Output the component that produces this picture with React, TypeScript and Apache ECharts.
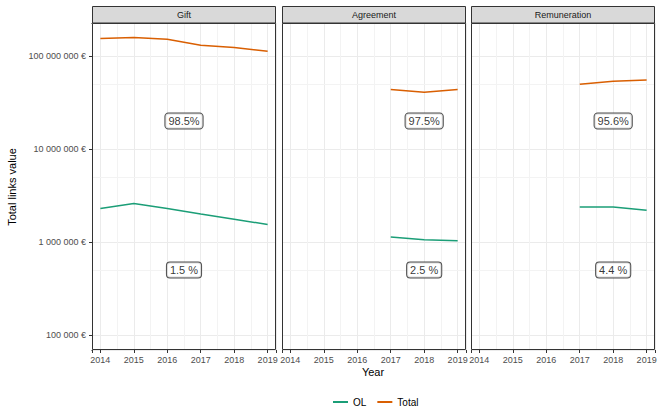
import React, { useEffect, useRef } from "react";
import * as echarts from "echarts";

const years = [2014, 2015, 2016, 2017, 2018, 2019];
const lateYears = [2017, 2018, 2019];
const panels = ["Gift", "Agreement", "Remuneration"];

const giftTotal = [154e6, 158e6, 151e6, 130e6, 123e6, 112e6];
const giftOL = [2.29e6, 2.6e6, 2.29e6, 2.0e6, 1.76e6, 1.54e6];
const agreementTotal = [43.5e6, 40.6e6, 43.5e6];
const agreementOL = [1.13e6, 1.06e6, 1.03e6];
const remunerationTotal = [49.5e6, 53.3e6, 55e6];
const remunerationOL = [2.38e6, 2.38e6, 2.2e6];

const shareTotal = ["98.5%", "97.5%", "95.6%"];
const shareOL = ["1.5 %", "2.5 %", "4.4 %"];
const labelX = [2016.5, 2018, 2018];
const labelYTotal = 2e7;
const labelYOL = 5e5;

const minorX = [2014.5, 2015.5, 2016.5, 2017.5, 2018.5];
const minorY = [5e5, 5e6, 5e7];

const GREEN = "#1B9E77";
const ORANGE = "#D95F02";
const FONT = "'Liberation Sans', Arial, sans-serif";

const panelLeft = [92, 282, 471];
const panelWidth = 184;
const panelTop = 23;
const panelHeight = 327;

const totals = [giftTotal, agreementTotal, remunerationTotal];
const ols = [giftOL, agreementOL, remunerationOL];
const xs = [years, lateYears, lateYears];

function fmtEuro(v: number) {
  const l = Math.log10(v);
  if (Math.abs(l - Math.round(l)) > 1e-6) return "";
  return Math.round(v).toString().replace(/\B(?=(\d{3})+(?!\d))/g, " ") + " €";
}

export default function App() {
  const ref = useRef<HTMLDivElement>(null);
  useEffect(() => {
    if (!ref.current) return;
    const chart = echarts.init(ref.current, undefined, { renderer: "svg" });

    const grid = panelLeft.map((l) => ({
      left: l,
      top: panelTop,
      width: panelWidth,
      height: panelHeight,
      show: true,
      backgroundColor: "#FFFFFF",
      borderWidth: 0,
    }));

    const xAxis = panelLeft.map((_, i) => ({
      type: "value",
      gridIndex: i,
      min: 2013.75,
      max: 2019.25,
      axisLine: { show: false },
      axisTick: { show: true, length: 3, lineStyle: { color: "#333333", width: 1 } },
      axisLabel: {
        show: true,
        margin: 5,
        fontSize: 9,
        fontFamily: FONT,
        color: "#4D4D4D",
        formatter: (v: number) => (Math.abs(v - Math.round(v)) < 1e-6 ? String(Math.round(v)) : ""),
      },
      splitLine: { show: true, lineStyle: { color: "#EBEBEB", width: 1 } },
    }));

    const yAxis = panelLeft.map((_, i) => ({
      type: "log",
      logBase: 10,
      gridIndex: i,
      min: 69000,
      max: 226e6,
      axisLine: { show: false },
      axisTick: { show: i === 0, length: 3, lineStyle: { color: "#333333", width: 1 } },
      axisLabel: {
        show: i === 0,
        margin: 6,
        fontSize: 9,
        fontFamily: FONT,
        color: "#4D4D4D",
        formatter: (v: number) => fmtEuro(v),
      },
      splitLine: { show: true, lineStyle: { color: "#EBEBEB", width: 1 } },
    }));

    const series: any[] = [];
    panels.forEach((_, i) => {
      series.push({
        name: "Total",
        type: "line",
        xAxisIndex: i,
        yAxisIndex: i,
        data: xs[i].map((x, k) => [x, totals[i][k]]),
        showSymbol: false,
        symbol: "none",
        lineStyle: { color: ORANGE, width: 1.5 },
        itemStyle: { color: ORANGE },
        z: 3,
        markLine: {
          silent: true,
          symbol: "none",
          z: 1,
          label: { show: false },
          lineStyle: { color: "#F3F3F3", width: 1, type: "solid" },
          data: [
            ...minorX.map((x) => ({ xAxis: x })),
            ...minorY.map((y) => ({ yAxis: y })),
          ],
        },
      });
      series.push({
        name: "OL",
        type: "line",
        xAxisIndex: i,
        yAxisIndex: i,
        data: xs[i].map((x, k) => [x, ols[i][k]]),
        showSymbol: false,
        symbol: "none",
        lineStyle: { color: GREEN, width: 1.5 },
        itemStyle: { color: GREEN },
        z: 3,
      });
      series.push({
        name: "share",
        type: "scatter",
        xAxisIndex: i,
        yAxisIndex: i,
        symbolSize: 1,
        itemStyle: { color: "rgba(0,0,0,0)" },
        z: 4,
        data: [
          [labelX[i], labelYTotal, shareTotal[i]],
          [labelX[i], labelYOL, shareOL[i]],
        ],
        label: {
          show: true,
          position: "inside",
          formatter: (p: any) => p.value[2],
          fontSize: 11,
          lineHeight: 12,
          fontFamily: FONT,
          color: "#000000",
          backgroundColor: "#FFFFFF",
          borderColor: "#222222",
          borderWidth: 1,
          borderRadius: 3,
          padding: [2, 3, 1, 3],
        },
      });
    });

    const graphics: any[] = [];
    panels.forEach((name, i) => {
      const l = panelLeft[i];
      graphics.push({
        type: "rect",
        z: 100,
        shape: { x: l + 0.5, y: 6.5, width: panelWidth - 1, height: 16.5 },
        style: { fill: "#D9D9D9", stroke: "#333333", lineWidth: 1 },
      });
      graphics.push({
        type: "text",
        z: 101,
        x: l + panelWidth / 2,
        y: 15,
        style: {
          text: name,
          fontSize: 9,
          fontFamily: FONT,
          fill: "#1A1A1A",
          textAlign: "center",
          textVerticalAlign: "middle",
        },
      });
      graphics.push({
        type: "rect",
        z: 100,
        shape: { x: l + 0.5, y: panelTop + 0.5, width: panelWidth - 1, height: panelHeight - 1 },
        style: { fill: "none", stroke: "#333333", lineWidth: 1 },
      });
    });
    // hide the range-end tick marks at the panel's top/bottom corners
    graphics.push({
      type: "rect",
      z: 99,
      shape: { x: 86, y: 20, width: 5.5, height: 6 },
      style: { fill: "#FFFFFF" },
    });
    graphics.push({
      type: "rect",
      z: 99,
      shape: { x: 86, y: 347.5, width: 5.5, height: 5 },
      style: { fill: "#FFFFFF" },
    });
    graphics.push({
      type: "text",
      z: 101,
      x: 12,
      y: 187,
      rotation: Math.PI / 2,
      style: {
        text: "Total links value",
        fontSize: 11,
        fontFamily: FONT,
        fill: "#000000",
        textAlign: "center",
        textVerticalAlign: "middle",
      },
    });
    graphics.push({
      type: "text",
      z: 101,
      x: 373,
      y: 372,
      style: {
        text: "Year",
        fontSize: 11,
        fontFamily: FONT,
        fill: "#000000",
        textAlign: "center",
        textVerticalAlign: "middle",
      },
    });

    chart.setOption({
      animation: false,
      backgroundColor: "#FFFFFF",
      grid,
      xAxis,
      yAxis,
      series,
      graphic: graphics,
      legend: {
        data: ["OL", "Total"],
        top: 397,
        left: 333,
        padding: 0,
        icon: "rect",
        itemWidth: 15,
        itemHeight: 2,
        itemGap: 11,
        textStyle: { fontSize: 10, fontFamily: FONT, color: "#000000" },
        selectedMode: false,
      },
    });
    return () => chart.dispose();
  }, []);
  return (
    <div
      ref={ref}
      style={{ position: "fixed", left: 0, top: 0, width: 661, height: 411 }}
    />
  );
}
